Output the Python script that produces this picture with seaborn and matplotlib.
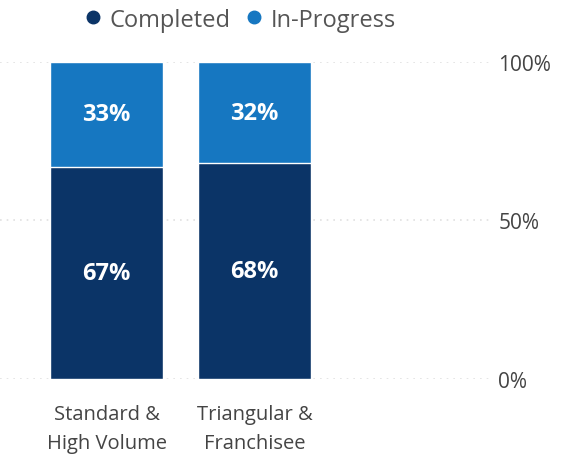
import pandas as pd
import seaborn as sns
import matplotlib.pyplot as plt
from matplotlib.lines import Line2D

categories = ['Standard &\nHigh Volume', 'Triangular &\nFranchisee']
completed = [67, 68]
in_progress = [33, 32]

dark = '#0B3467'
light = '#1677C1'

df = pd.DataFrame({
    'category': categories,
    'completed': completed,
    'total': [c + p for c, p in zip(completed, in_progress)],
})

sns.set_style('white')
plt.rcParams['font.family'] = ['Open Sans', 'DejaVu Sans']

fig = plt.figure(figsize=(5.67, 4.6), dpi=100)
ax = fig.add_axes([0.0, 0.174, 0.864, 0.689])

# stacked: draw full height in light, then completed on top in dark
sns.barplot(data=df, x='category', y='total', color=light, width=0.764,
            saturation=1, ax=ax)
sns.barplot(data=df, x='category', y='completed', color=dark, width=0.764,
            saturation=1, ax=ax)

for i, (c, p) in enumerate(zip(completed, in_progress)):
    ax.text(i, c / 2, f'{c}%', ha='center', va='center', color='white',
            fontsize=17, fontweight='bold')
    ax.text(i, c + p / 2, f'{p}%', ha='center', va='center', color='white',
            fontsize=17, fontweight='bold')

ax.set_xlim(-0.72, 2.59)
ax.set_ylim(0, 100)
ax.set_yticks([0, 50, 100])
ax.set_yticklabels(['0%', '50%', '100%'])
ax.yaxis.tick_right()
ax.tick_params(axis='y', length=0, labelsize=15, labelcolor='#444444', pad=6)
ax.tick_params(axis='x', length=0, labelsize=14.5, labelcolor='#444444', pad=18)
for lbl in ax.get_xticklabels():
    lbl.set_linespacing(1.6)
ax.set_xlabel('')
ax.set_ylabel('')
ax.grid(axis='y', color='#e0e0e0', linestyle=(0, (1, 3)), linewidth=1.2)
ax.set_axisbelow(True)
for s in ax.spines.values():
    s.set_visible(False)

handles = [
    Line2D([], [], marker='o', linestyle='', color=dark, markersize=9),
    Line2D([], [], marker='o', linestyle='', color=light, markersize=9),
]
fig.legend(handles, ['Completed', 'In-Progress'], loc='center',
           bbox_to_anchor=(0.41, 0.955), ncol=2, frameon=False,
           fontsize=17, handletextpad=-0.3, columnspacing=0.0,
           labelcolor='#555555')

fig.savefig('out.png', dpi=100)
